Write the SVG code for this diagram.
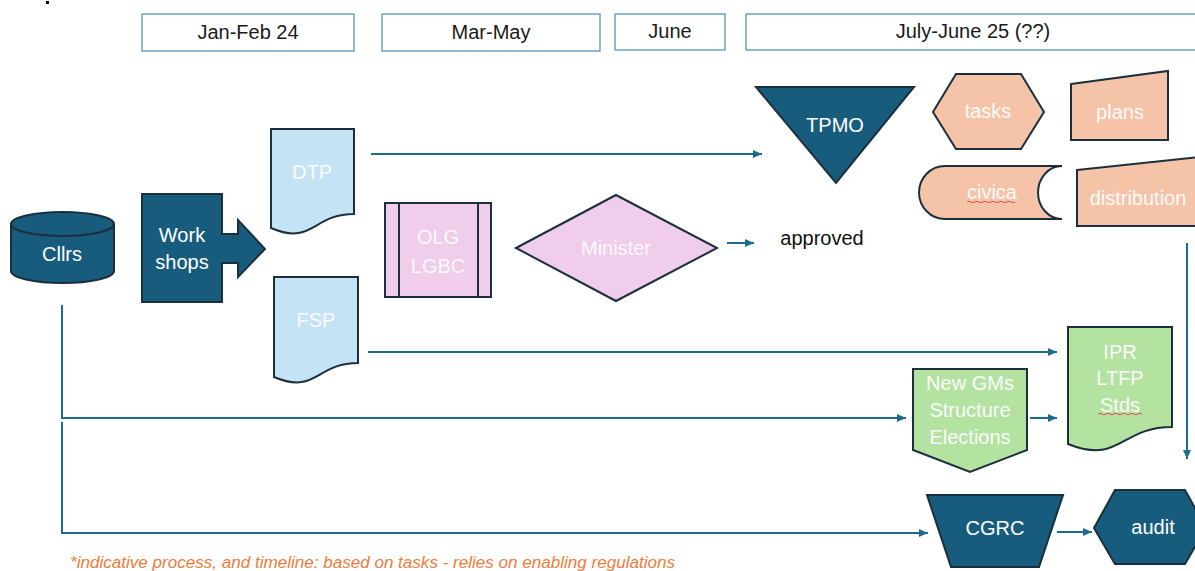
<svg xmlns="http://www.w3.org/2000/svg" width="1195" height="571" viewBox="0 0 1195 571">
<defs>
<style>
text{font-family:"Liberation Sans",Arial,sans-serif;}
.hdr{fill:#fff;stroke:#6ea2bc;stroke-width:1.5;}
.ht{font-size:20px;fill:#1a1a1a;text-anchor:middle;}
.dark{fill:#175c7d;stroke:#1b2f3d;stroke-width:2;}
.blue{fill:#c4e4f5;stroke:#1b2f3d;stroke-width:2;}
.pink{fill:#efcdeb;stroke:#1b2f3d;stroke-width:2;}
.salmon{fill:#f5c4a8;stroke:#1b2f3d;stroke-width:2;}
.green{fill:#b4e2a0;stroke:#1b2f3d;stroke-width:2;}
.wt{font-size:20px;fill:#fff;text-anchor:middle;}
.lt{font-size:20px;fill:#fafafa;text-anchor:middle;}
.conn{fill:none;stroke:#1f6a8f;stroke-width:2;}
.spell{fill:none;stroke:#e05050;stroke-width:1;}
</style>
<marker id="ah" markerUnits="userSpaceOnUse" markerWidth="10" markerHeight="10" refX="9" refY="5" orient="auto">
<path d="M0,1 L9,5 L0,9 Z" fill="#1f6a8f"/>
</marker>
</defs>
<rect width="1195" height="571" fill="#fff"/>
<rect x="46" y="1" width="3" height="3" fill="#000"/>

<g id="headers">
<g id="h-janfeb"><rect class="hdr" x="142" y="14" width="212" height="37"/><text class="ht" x="248" y="39">Jan-Feb 24</text></g>
<g id="h-marmay"><rect class="hdr" x="382" y="14" width="218" height="37"/><text class="ht" x="491" y="39">Mar-May</text></g>
<g id="h-june"><rect class="hdr" x="615" y="14" width="110" height="36"/><text class="ht" x="670" y="38">June</text></g>
<g id="h-july"><rect class="hdr" x="746" y="14" width="460" height="36"/><text class="ht" x="973" y="38">July-June 25 (??)</text></g>
</g>

<g id="connectors">
<path class="conn" d="M371,154 H762" marker-end="url(#ah)"/>
<path class="conn" d="M727,243 H754" marker-end="url(#ah)"/>
<path class="conn" d="M368,352 H1057" marker-end="url(#ah)"/>
<path class="conn" d="M62,305 V418 H906" marker-end="url(#ah)"/>
<path class="conn" d="M62,422 V533 H928" marker-end="url(#ah)"/>
<path class="conn" d="M1030,418 H1057" marker-end="url(#ah)"/>
<path class="conn" d="M1057,532 H1092" marker-end="url(#ah)"/>
<path class="conn" d="M1187,243 V459" marker-end="url(#ah)"/>
</g>

<g id="cllrs">
<path class="dark" d="M11,224 A51.5,12 0 0 1 114,224 V271 A51.5,12 0 0 1 11,271 Z"/>
<path class="dark" d="M11,224 A51.5,12 0 0 0 114,224" fill="none"/>
<text class="wt" x="62" y="261" font-size="21">Cllrs</text>
</g>

<g id="workshops">
<path class="dark" d="M142,194 H222 V234 H238 V220 L265,249 L238,277 V263 H222 V302 H142 Z"/>
<text class="wt" x="182" y="242">Work</text>
<text class="wt" x="182" y="269">shops</text>
</g>

<g id="dtp">
<path class="blue" d="M271,129 H354 V214 C312.5,214 312.5,246 271,228 Z"/>
<text class="lt" x="312" y="179">DTP</text>
</g>

<g id="fsp">
<path class="blue" d="M274,277 H358 V363 C316,363 316,395 274,377 Z"/>
<text class="lt" x="316" y="327">FSP</text>
</g>

<g id="olg">
<rect class="pink" x="385" y="203" width="106" height="94"/>
<line x1="399" y1="203" x2="399" y2="297" stroke="#1b2f3d" stroke-width="2"/>
<line x1="478" y1="203" x2="478" y2="297" stroke="#1b2f3d" stroke-width="2"/>
<text class="lt" x="438" y="244">OLG</text>
<text class="lt" x="438" y="273">LGBC</text>
</g>

<g id="minister">
<polygon class="pink" points="516,248 616,195 717,248 616,301"/>
<text class="lt" x="616" y="255">Minister</text>
</g>

<g id="approved">
<text x="822" y="245" font-size="20" fill="#111" text-anchor="middle">approved</text>
</g>

<g id="tpmo">
<polygon class="dark" points="756,87 914,87 836,183"/>
<text class="wt" x="835" y="132">TPMO</text>
</g>

<g id="tasks">
<polygon class="salmon" points="933,112 956,74 1021,74 1044,112 1021,149 956,149"/>
<text class="lt" x="988" y="118" font-size="19">tasks</text>
</g>

<g id="plans">
<polygon class="salmon" points="1071,84 1168,71 1168,140 1071,140"/>
<text class="lt" x="1120" y="119" font-size="19">plans</text>
</g>

<g id="civica">
<path class="salmon" d="M945,166 H1062 A24,26.5 0 0 0 1062,219 H945 A26,26.5 0 0 1 945,166 Z"/>
<text class="lt" x="992" y="199" font-size="19">civica</text>
<path class="spell" d="M967,202 q2,-1.5 4,0 t4,0 t4,0 t4,0 t4,0 t4,0 t4,0 t4,0 t4,0 t4,0 t4,0 t4,0"/>
</g>

<g id="distribution">
<polygon class="salmon" points="1077,170 1200,157 1200,226 1077,226"/>
<text class="lt" x="1138" y="205" font-size="19">distribution</text>
</g>

<g id="newgms">
<polygon class="green" points="913,369 1027,369 1027,450 970,472 913,450"/>
<text class="lt" x="970" y="390">New GMs</text>
<text class="lt" x="970" y="417">Structure</text>
<text class="lt" x="970" y="444">Elections</text>
</g>

<g id="ipr">
<path class="green" d="M1068,327 H1172 V427 C1120,427 1120,465 1068,444 Z"/>
<text class="lt" x="1120" y="359">IPR</text>
<text class="lt" x="1120" y="385">LTFP</text>
<text class="lt" x="1120" y="412">Stds</text>
<path class="spell" d="M1098,414 q2,-1.5 4,0 t4,0 t4,0 t4,0 t4,0 t4,0 t4,0 t4,0 t4,0 t4,0 t4,0"/>
</g>

<g id="cgrc">
<polygon class="dark" points="927,495 1063,495 1039,567 951,567"/>
<text class="wt" x="995" y="535">CGRC</text>
</g>

<g id="audit">
<polygon class="dark" points="1094,528 1115,490 1185,490 1206,528 1185,564 1115,564"/>
<text class="wt" x="1153" y="534" font-size="19">audit</text>
</g>

<g id="note">
<text x="70" y="568" font-size="16" font-style="italic" fill="#f07b3a" textLength="605" lengthAdjust="spacingAndGlyphs">*indicative process, and timeline: based on tasks - relies on enabling regulations</text>
</g>
</svg>
